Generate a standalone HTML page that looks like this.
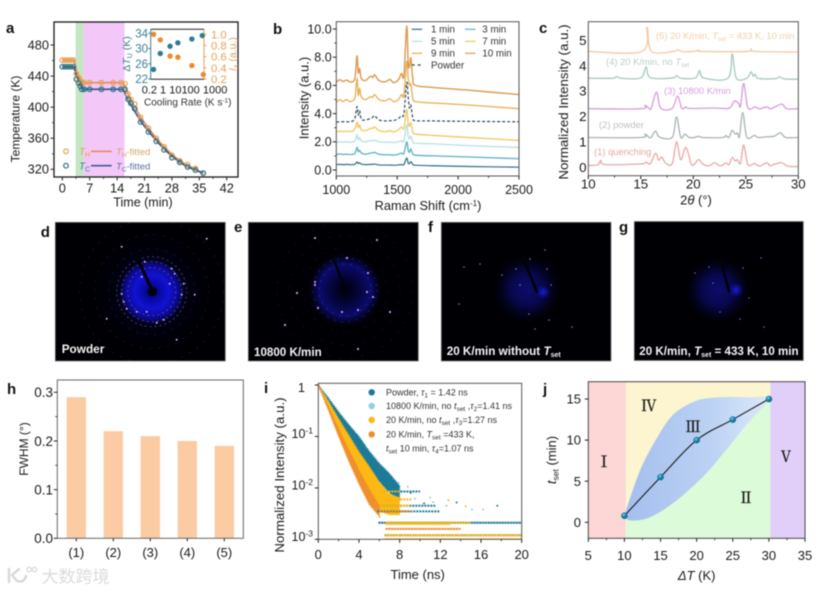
<!DOCTYPE html>
<html lang="zh">
<head>
<meta charset="utf-8">
<title>Composite figure</title>
<style>
html,body{margin:0;padding:0;background:#fff;width:827px;height:592px;overflow:hidden}
#figure{display:block;filter:blur(0.5px);font-family:"Liberation Sans","Noto Sans CJK SC",sans-serif}
</style>
</head>
<body>
<svg id="figure" xmlns="http://www.w3.org/2000/svg" width="827" height="592" viewBox="0 0 827 592">
<defs>
<radialGradient id="gradD"><stop offset="0" stop-color="#02021a"/><stop offset=".2" stop-color="#0808a0"/><stop offset=".5" stop-color="#1212d2"/><stop offset=".8" stop-color="#0a0a88"/><stop offset="1" stop-color="#05053a" stop-opacity="0"/></radialGradient>
<radialGradient id="gradE"><stop offset="0" stop-color="#000008"/><stop offset=".35" stop-color="#040436"/><stop offset=".7" stop-color="#0b0b6c"/><stop offset="1" stop-color="#05053a" stop-opacity="0"/></radialGradient>
<radialGradient id="gradF"><stop offset="0" stop-color="#11118c"/><stop offset=".5" stop-color="#0a0a62"/><stop offset="1" stop-color="#040428" stop-opacity="0"/></radialGradient>
<radialGradient id="gradCore"><stop offset="0" stop-color="#1c1ce0"/><stop offset="1" stop-color="#1010b0" stop-opacity="0"/></radialGradient>
<radialGradient id="gradBead" cx=".4" cy=".35" r=".7"><stop offset="0" stop-color="#8fe0f0"/><stop offset=".35" stop-color="#1f8fb5"/><stop offset="1" stop-color="#0d5f85"/></radialGradient>
<linearGradient id="gradBlob" x1="0" x2="1" y1="0" y2="0"><stop offset="0" stop-color="#a4bfee"/><stop offset=".6" stop-color="#bcd2f4"/><stop offset="1" stop-color="#dbe8fa"/></linearGradient>
<clipPath id="clipD"><rect x="55.3" y="222.3" width="170" height="138.7"/></clipPath>
<clipPath id="clipE"><rect x="248.3" y="222.3" width="170" height="138.7"/></clipPath>
<clipPath id="clipF"><rect x="441.3" y="222.3" width="169.7" height="138.7"/></clipPath>
<clipPath id="clipG"><rect x="634.3" y="221.5" width="169" height="139"/></clipPath>
<clipPath id="clipI"><rect x="318.3" y="383.3" width="203.4" height="156"/></clipPath>
</defs>
</svg>
<script>
/* ---------- panel a data ---------- */
const aTimes = [0,0.7,1.4,2.1,2.8,3.6,4.2,4.6,5.0,5.6,7,10,13,15,16,16.8,17.5,18.5,20,22,24,26,28,30,32,34,36];
const aHot   = [460.5,460.5,460.5,460.5,460.5,443,438,434,431.5,431.5,431.5,431.5,431.5,431.5,430,417,410,404,387,373,360,349,338,331,326,321,315];
const aCold  = [452,452,452,452,452,436,431,427,423,423,423,423,423,423,423,410,405,398,381,368,356,345,335,329,323,319,315];
const aFitTimes = [0,3,3.6,4.4,5.4,15.6,16.5,18,20,22,24,26,28,30,32,34,36];
const aFitHot   = [460.5,460.5,447,437,431.5,431.5,420,405,387,373,360,349,339,331,325,320,315];
const aFitCold  = [452,452,440,430,423,423,412,399,382,369,357,346,337,329,323,319,315];
const aXTicks = [0,7,14,21,28,35,42];
const aYTicks = [320,360,400,440,480];
const insetRates = [0.33,1,5,18,180,1000];
const insetDelta = [24.5,28.7,30.6,31.5,32.5,33.4];
const insetIx    = [1.0,0.9,0.61,0.59,0.44,0.28];
const insetDeltaTicks = [22,26,30,34];
const insetIxTicks = [0.2,0.4,0.6,0.8,1.0];

/* ---------- panel b data ---------- */
const ramanShift = [1000,1030,1055,1085,1110,1140,1155,1170,1180,1192,1205,1240,1280,1300,1315,1350,1400,1440,1470,1510,1535,1555,1578,1590,1600,1612,1628,1650,1800,2100,2500];
const raman1  = [0.38,0.4,0.38,0.4,0.38,0.38,0.42,0.58,0.45,0.52,0.42,0.38,0.4,0.4,0.42,0.36,0.35,0.35,0.34,0.36,0.38,0.38,0.85,0.5,0.45,0.6,0.4,0.34,0.3,0.25,0.2];
const raman3  = [1.1,1.14,1.1,1.12,1.1,1.12,1.2,1.62,1.3,1.4,1.2,1.12,1.2,1.22,1.25,1.12,1.08,1.08,1.06,1.12,1.2,1.18,2.0,1.4,1.25,1.5,1.15,1.05,1.0,0.92,0.8];
const raman5  = [1.95,2.0,1.97,2.0,1.97,2.0,2.1,2.5,2.15,2.3,2.05,2.0,2.08,2.08,2.12,2.0,1.97,1.97,1.95,2.0,2.08,2.05,3.2,2.4,2.2,2.4,2.0,1.9,1.85,1.72,1.6];
const raman7  = [2.7,2.75,2.72,2.75,2.72,2.78,2.95,3.4,3.0,3.2,2.85,2.8,2.95,2.95,3.05,2.8,2.72,2.78,2.7,2.85,3.05,2.95,4.3,3.3,3.1,3.35,2.7,2.55,2.45,2.3,2.1];
const ramanPowder = [3.4,3.42,3.42,3.42,3.42,3.5,3.75,4.5,3.9,4.2,3.6,3.55,3.65,3.75,3.85,3.55,3.48,3.5,3.5,3.65,3.85,4.0,6.2,5.2,4.4,4.6,3.7,3.5,3.48,3.45,3.42];
const raman9  = [4.8,5.0,4.85,5.0,4.85,4.95,5.2,6.5,5.3,5.8,5.2,5.0,5.2,5.15,5.35,5.0,4.9,5.05,4.85,5.0,5.35,5.3,7.7,6.5,6.0,6.1,5.1,4.85,4.75,4.6,4.35];
const raman10 = [6.25,6.4,6.28,6.38,6.25,6.3,6.6,8.1,6.9,7.2,6.5,6.35,6.65,6.55,6.75,6.35,6.25,6.42,6.2,6.4,6.85,6.7,10.2,7.6,7.3,7.95,6.5,6.0,5.85,5.65,5.35];
const bXTicks = [1000,1500,2000,2500];
const bYTicks = [0,2,4,6,8,10];
const bLegendLabels = ['1 min','5 min','9 min','3 min','7 min','10 min'];

/* ---------- panel c data ---------- */
const c1x = [10,10.9,11.2,11.6,15,15.5,15.9,16.4,16.7,17,17.4,18,18.4,18.8,19.3,19.8,20.1,20.5,21,21.6,22,22.5,22.8,23.1,23.4,23.7,24,24.2,24.5,24.8,25.2,25.8,26.3,27,27.3,27.6,28.4,29,30];
const c1y = [0.07,0.1,0.27,0.11,0.13,0.2,0.14,0.55,0.28,0.4,0.15,0.15,1.0,0.3,0.78,0.13,0.12,0.3,0.1,0.07,0.18,0.07,0.08,0.18,0.1,0.38,0.25,0.3,0.16,0.88,0.1,0.15,0.05,0.18,0.06,0.1,0.18,0.04,0.03];
const c2x = [10,15,15.4,15.8,16,16.4,16.8,18,18.4,18.8,19.2,19.6,20.1,20.5,20.9,22.8,23.1,23.4,23.7,24,24.2,24.4,24.7,25.1,25.8,26.2,27,27.7,28.3,28.8,30];
const c2y = [1.17,1.17,1.3,1.17,1.18,1.42,1.18,1.18,1.98,1.18,1.3,1.17,1.17,1.22,1.17,1.17,1.25,1.17,1.45,1.3,1.35,1.2,2.15,1.18,1.25,1.17,1.2,1.22,1.35,1.17,1.17];
const c3x = [10,15,15.4,15.8,16,16.5,16.9,18,18.5,18.9,19.3,19.7,22,23.4,23.9,24.3,24.5,24.8,25.2,25.9,26.3,27,27.4,28.4,28.9,30];
const c3y = [2.3,2.3,2.43,2.31,2.32,2.95,2.32,2.32,2.8,2.32,2.37,2.31,2.33,2.32,2.6,2.52,2.4,3.3,2.34,2.37,2.3,2.37,2.3,2.48,2.3,2.3];
const c4x = [10,12.3,12.7,13.1,15,15.5,15.9,18,18.4,18.8,20.2,20.6,21,23.3,23.7,24.1,25.1,25.5,25.7,25.9,26.2,27.8,28.2,28.7,30];
const c4y = [3.5,3.5,3.57,3.5,3.51,3.95,3.52,3.51,3.6,3.5,3.51,3.8,3.51,3.5,4.45,3.5,3.5,3.75,3.58,3.65,3.49,3.48,3.55,3.47,3.46];
const c5x = [10,15.1,15.6,16,18.1,18.5,18.9,20.1,20.5,20.9,25.1,25.5,25.9,30];
const c5y = [4.55,4.55,5.5,4.56,4.55,4.62,4.55,4.55,4.6,4.55,4.55,4.65,4.55,4.53];
const cXTicks = [10,15,20,25,30];
const cYTicks = [0,1,2,3,4,5];

/* ---------- panel h data ---------- */
const hCategories = ['(1)','(2)','(3)','(4)','(5)'];
const hValues = [0.29,0.22,0.21,0.20,0.19];
const hYTicks = [0,0.1,0.2,0.3];

/* ---------- panel i data ---------- */
const iTimes = [0,1,2,3,4,5,6,7,8];
const iPowderUpper = [1,0.56,0.3,0.17,0.1,0.052,0.03,0.019,0.011];
const iPowderLower = [1,0.48,0.2,0.09,0.045,0.022,0.013,0.008,0.006];
const iGoldUpper = [1,0.48,0.22,0.105,0.05,0.026,0.013,0.0075,0.0065];
const iGoldLower = [1,0.35,0.12,0.045,0.017,0.0075,0.0035,0.003,0.003];
const iOrangeUpper = [1,0.38,0.14,0.055,0.022,0.0095,0.0045];
const iOrangeLower = [1,0.32,0.1,0.033,0.012,0.0048,0.0028];
const iRowLevels = [0.0085,0.0085,0.006,0.0045,0.0045,0.0035,0.0035,0.0021,0.0021,0.002,0.0016,0.0012,0.0012,0.001,0.001];
const iRowStarts = [6.3,6.0,6.0,6.0,6.0,5.8,6.0,5.9,6.6,6.6,6.6,6.5,6.5,6.5,6.5];
const iRowEnds   = [10,8.0,9.2,11.5,9,12,9.2,20,15,13,14,20,20,20,20];
const iRowColors = [0,2,2,0,2,0,3,0,2,2,3,0,2,2,2];
const iOutlierT = [9.5,10.4,11,12.6,13.6,14.5,15.1,16.2,17.6,11.3,12.8,8.8,9.1,7.9];
const iOutlierI = [0.0062,0.005,0.0065,0.0045,0.0052,0.0044,0.0038,0.0038,0.0045,0.0053,0.0058,0.0105,0.008,0.0125];
const iOutlierColor = [1,0,1,1,0,2,1,1,0,1,2,1,0,1];
const iXTicks = [0,4,8,12,16,20];
const iYExponents = [0,-1,-2,-3];
const iPalette = ['#1c7b98','#92cfe2','#fdb913','#ef8f2e'];

/* ---------- panel j data ---------- */
const jDeltaT = [10,15,20,25,30];
const jTset = [0.8,5.5,10,12.5,15];
const jBlobX = [10,11,12.5,15,17,20,23,27,30,27,25,22,20,17,14,12,10.5,10];
const jBlobY = [0.8,3.5,7,11,13.3,14.8,15.2,15.2,15,12,9.8,6.6,4.8,2.5,0.8,0.25,0.3,0.8];
const jXTicks = [5,10,15,20,25,30,35];
const jYTicks = [0,5,10,15];

/* ---------- diffraction spots (offsets from beam centre) ---------- */
const dSpotX = [-7,20,23,32,-30,-28,-25,5,12,-15,-5,30,43,25,-45,55,-30,-10,18];
const dSpotY = [-30,-23,-18,-8,2,10,17,31,28,20,20,3,3,48,27,-53,-45,-15,-8];
const eSpotX = [23,-30,-30,-27,28,2,13,22,-3,32,-30,13,-60,45,-48];
const eSpotY = [-17,-5,-8,18,7,-32,20,2,22,-50,-52,59,35,22,3];
const fSpotX = [-57,-35,-21,-7,10,-17,-8,12,-2,35,-78,-73,14,8];
const fSpotY = [-28,-17,-23,-33,-23,-7,22,28,37,35,12,-25,-7,-42];
const gSpotX = [-21,13,-17,-10,10,19,-35,31,34];
const gSpotY = [-23,-22,-7,22,29,8,-17,-32,37];

/* ---------- helpers ---------- */
const NS = 'http://www.w3.org/2000/svg';
const root = document.getElementById('figure');
function mk(parent, tag, name, attrs) {
  const e = document.createElementNS(NS, tag);
  
  
  for (const k in attrs) e.setAttribute(k, attrs[k]);
  parent.appendChild(e);
  return e;
}
function txt(parent, name, x, y, html, o) {
  o = o || {};
  const a = {x: x, y: y, 'font-size': o.size || 12.5, fill: o.fill || '#1a1a1a', 'text-anchor': o.anchor || 'start'};
  if (o.weight) a['font-weight'] = o.weight;
  if (o.family) a['font-family'] = o.family;
  if (o.stroke) { a.stroke = o.stroke; a['stroke-width'] = .35; }
  if (o.rot) a.transform = 'rotate(-90 ' + x + ' ' + y + ')';
  const e = mk(parent, 'text', name, a);
  e.innerHTML = html;
  return e;
}
function linear(d0, d1, r0, r1) { return v => r0 + (v - d0) * (r1 - r0) / (d1 - d0); }
function pts(xs, ys, sx, sy) { return xs.map((x, i) => sx(x).toFixed(2) + ',' + sy(ys[i]).toFixed(2)).join(' '); }
function line(g, name, xs, ys, sx, sy, color, w, dash) {
  const a = {points: pts(xs, ys, sx, sy), fill: 'none', stroke: color, 'stroke-width': w, 'stroke-linejoin': 'round'};
  if (dash) a['stroke-dasharray'] = dash;
  return mk(g, 'polyline', name, a);
}
function smooth(p) {
  let d = 'M' + p[0][0].toFixed(2) + ' ' + p[0][1].toFixed(2);
  for (let i = 0; i < p.length - 1; i++) {
    const a = p[Math.max(i - 1, 0)], b = p[i], c = p[i + 1], e = p[Math.min(i + 2, p.length - 1)];
    d += 'C' + (b[0] + (c[0] - a[0]) / 6).toFixed(2) + ' ' + (b[1] + (c[1] - a[1]) / 6).toFixed(2) + ' ' +
         (c[0] - (e[0] - b[0]) / 6).toFixed(2) + ' ' + (c[1] - (e[1] - b[1]) / 6).toFixed(2) + ' ' +
         c[0].toFixed(2) + ' ' + c[1].toFixed(2);
  }
  return d;
}
function curve(g, name, xs, ys, sx, sy, color, w, dash) {
  const a = {d: smooth(xs.map((x, i) => [sx(x), sy(ys[i])])), fill: 'none', stroke: color, 'stroke-width': w, 'stroke-linejoin': 'round'};
  if (dash) a['stroke-dasharray'] = dash;
  return mk(g, 'path', name, a);
}
function frame(g, x0, y0, x1, y1, color, w) {
  mk(g, 'rect', 'plot-frame', {x: x0, y: y0, width: x1 - x0, height: y1 - y0, fill: 'none', stroke: color, 'stroke-width': w});
}
function xAxis(g, vals, labels, sx, y, base, o) {
  o = o || {};
  vals.forEach((v, i) => {
    mk(g, 'line', 'x-tick', {x1: sx(v), x2: sx(v), y1: y, y2: y + (o.len || 3.5), stroke: o.color || '#222', 'stroke-width': 1});
    txt(g, 'x-tick-label', sx(v), base, labels[i], {anchor: 'middle', size: o.size || 12.5, fill: o.fill});
  });
}
function yAxis(g, vals, labels, sy, x, right, o) {
  o = o || {};
  vals.forEach((v, i) => {
    mk(g, 'line', 'y-tick', {x1: x - (o.len === 0 ? 0 : (o.len || 3.5)), x2: x, y1: sy(v), y2: sy(v), stroke: o.color || '#222', 'stroke-width': 1});
    txt(g, 'y-tick-label', right, sy(v) + (o.dy || 4.4), labels[i], {anchor: 'end', size: o.size || 12.5, fill: o.fill});
  });
}
function minorX(g, vals, sx, y, color) { vals.forEach(v => mk(g, 'line', 'x-minor-tick', {x1: sx(v), x2: sx(v), y1: y, y2: y + 2, stroke: color || '#222', 'stroke-width': .8})); }
function minorY(g, vals, sy, x, color) { vals.forEach(v => mk(g, 'line', 'y-minor-tick', {x1: x - 2, x2: x, y1: sy(v), y2: sy(v), stroke: color || '#222', 'stroke-width': .8})); }
const letters = [['a',6,33],['b',273,34],['c',539,33],['d',40.7,237],['e',234,232],['f',428,232],['g',619,232],['h',7,394],['i',264,393],['j',543,394]];
function panel(name) { return mk(root, 'g', name, {}); }

/* ---------- panel a ---------- */
(function () {
  const g = panel('panel-a');
  const x0 = 54, x1 = 238, y0 = 22, y1 = 177;
  const sx = linear(0, 42, 62.3, 226.7), sy = linear(320, 480, 169.3, 45);
  mk(g, 'rect', 'nucleation-zone', {x: sx(3.4), y: y0, width: sx(5.4) - sx(3.4), height: y1 - y0, fill: '#c4e6c4'});
  mk(g, 'rect', 'isothermal-zone', {x: sx(5.4), y: y0, width: sx(15.9) - sx(5.4), height: y1 - y0, fill: '#f3c8f8'});
  line(g, 'th-fitted-line', aFitTimes, aFitHot, sx, sy, '#e98a58', 1.7);
  line(g, 'tc-fitted-line', aFitTimes, aFitCold, sx, sy, '#3c5c90', 1.7);
  aTimes.forEach((t, i) => mk(g, 'circle', 'th-point', {cx: sx(t), cy: sy(aHot[i]), r: 2.3, fill: 'none', stroke: '#e8a04e', 'stroke-width': 1.2}));
  aTimes.forEach((t, i) => mk(g, 'circle', 'tc-point', {cx: sx(t), cy: sy(aCold[i]), r: 2.3, fill: 'none', stroke: '#2d7284', 'stroke-width': 1.2}));
  frame(g, x0, y0, x1, y1, '#1a1a1a', 1.3);
  xAxis(g, aXTicks, aXTicks.map(String), sx, y1, 192.7, {size: 12.8});
  yAxis(g, aYTicks, aYTicks.map(String), sy, x0, 49, {size: 12.8});
  minorX(g, [3.5,10.5,17.5,24.5,31.5,38.5], sx, y1);
  minorY(g, [340,380,420,460], sy, x0);
  txt(g, 'x-axis-title', 143, 206.7, 'Time (min)', {anchor: 'middle', size: 12.5});
  txt(g, 'y-axis-title', 19.5, 119, 'Temperature (K)', {anchor: 'middle', size: 12, rot: true});
  /* legend */
  mk(g, 'circle', 'legend-th-marker', {cx: 66, cy: 151.3, r: 2.3, fill: 'none', stroke: '#e8a04e', 'stroke-width': 1.2});
  mk(g, 'circle', 'legend-tc-marker', {cx: 66, cy: 165.7, r: 2.3, fill: 'none', stroke: '#2d7284', 'stroke-width': 1.2});
  txt(g, 'legend-th-label', 79, 155, '<tspan font-style="italic">T</tspan><tspan dy="2" font-size="7">H</tspan>', {size: 10, fill: '#e3a257'});
  txt(g, 'legend-tc-label', 79, 169.5, '<tspan font-style="italic">T</tspan><tspan dy="2" font-size="7">C</tspan>', {size: 10, fill: '#3c7f90'});
  mk(g, 'line', 'legend-th-line', {x1: 91, x2: 111.7, y1: 151.3, y2: 151.3, stroke: '#e98a58', 'stroke-width': 1.6});
  mk(g, 'line', 'legend-tc-line', {x1: 91, x2: 111.7, y1: 165.7, y2: 165.7, stroke: '#3c5c90', 'stroke-width': 1.6});
  txt(g, 'legend-th-fitted', 116, 155, '<tspan font-style="italic">T</tspan><tspan dy="2" font-size="6.5">H</tspan><tspan dy="-2">-fitted</tspan>', {size: 9.5, fill: '#d9a363'});
  txt(g, 'legend-tc-fitted', 116, 169.5, '<tspan font-style="italic">T</tspan><tspan dy="2" font-size="6.5">C</tspan><tspan dy="-2">-fitted</tspan>', {size: 9.5, fill: '#5d6f9e'});
  /* inset */
  const ig = mk(g, 'g', 'inset-chart', {});
  const ix0 = 150.7, ix1 = 204, iy0 = 29.3, iy1 = 79.3;
  const lx = v => 160.3 + Math.log10(v) * 14;
  const dy = linear(22, 34, 79, 33.3), oy = linear(0.2, 1.0, 79, 34.3);
  mk(ig, 'rect', 'inset-background', {x: ix0, y: iy0, width: ix1 - ix0, height: iy1 - iy0, fill: '#fff'});
  mk(ig, 'path', 'inset-left-spine', {d: 'M' + ix0 + ' ' + iy0 + 'V' + iy1, stroke: '#3c7f90', 'stroke-width': 1, fill: 'none'});
  mk(ig, 'path', 'inset-right-spine', {d: 'M' + ix1 + ' ' + iy0 + 'V' + iy1, stroke: '#e3a257', 'stroke-width': 1, fill: 'none'});
  mk(ig, 'path', 'inset-top-bottom-spine', {d: 'M' + ix0 + ' ' + iy0 + 'H' + ix1 + 'M' + ix0 + ' ' + iy1 + 'H' + ix1, stroke: '#222', 'stroke-width': 1, fill: 'none'});
  insetRates.forEach((r, i) => {
    mk(ig, 'circle', 'inset-delta-point', {cx: lx(r), cy: dy(insetDelta[i]), r: 2.7, fill: '#2f7c92'});
    mk(ig, 'circle', 'inset-ix-point', {cx: lx(r) + (i === 5 ? 1 : 0), cy: oy(insetIx[i]), r: 2.7, fill: '#ee8a2c'});
  });
  insetDeltaTicks.forEach(v => {
    mk(ig, 'line', 'inset-left-tick', {x1: ix0 - 2.5, x2: ix0, y1: dy(v), y2: dy(v), stroke: '#3c7f90'});
    txt(ig, 'inset-left-label', 148, dy(v) + 4, String(v), {anchor: 'end', size: 11.5, fill: '#3c7f90'});
  });
  insetIxTicks.forEach(v => {
    mk(ig, 'line', 'inset-right-tick', {x1: ix1, x2: ix1 + 2.5, y1: oy(v), y2: oy(v), stroke: '#e3a257'});
    txt(ig, 'inset-right-label', 211, oy(v) + 4, v.toFixed(1), {size: 11.3, fill: '#e3a257'});
  });
  txt(ig, 'inset-x-labels', 141.7, 93.5, '0.2 1 10100 1000', {size: 11});
  txt(ig, 'inset-x-title', 144, 105.5, 'Cooling Rate (K s<tspan dy="-3" font-size="6.5">-1</tspan><tspan dy="3">)</tspan>', {size: 10, fill: '#333'});
  txt(ig, 'inset-left-title', 130, 54, '&#916;<tspan font-style="italic">T</tspan><tspan dy="2" font-size="7">U</tspan><tspan dy="-2"> (K)</tspan>', {anchor: 'middle', size: 10.5, fill: '#3c7f90', rot: true});
  txt(ig, 'inset-right-title', 236, 54, '<tspan font-style="italic">I</tspan><tspan dy="2" font-size="7">x</tspan><tspan dy="-2"> (a.u.)</tspan>', {anchor: 'middle', size: 10.5, fill: '#e3a257', rot: true});
})();

/* ---------- panel b ---------- */
(function () {
  const g = panel('panel-b');
  const x0 = 336.3, x1 = 519, y0 = 21.7, y1 = 176;
  const sx = linear(1000, 2500, x0, x1), sy = linear(0, 10, 170, 29);
  curve(g, 'series-1-min', ramanShift, raman1, sx, sy, '#2f6f85', 1.2);
  curve(g, 'series-3-min', ramanShift, raman3, sx, sy, '#5fb0c9', 1.3);
  curve(g, 'series-5-min', ramanShift, raman5, sx, sy, '#b7dfe6', 1.3);
  curve(g, 'series-7-min', ramanShift, raman7, sx, sy, '#f2c75c', 1.3);
  curve(g, 'series-powder', ramanShift, ramanPowder, sx, sy, '#2c4a5e', 1.2, '3 2');
  curve(g, 'series-9-min', ramanShift, raman9, sx, sy, '#e8ae50', 1.3);
  curve(g, 'series-10-min', ramanShift, raman10, sx, sy, '#dc9a4e', 1.4);
  frame(g, x0, y0, x1, y1, '#555', 1);
  xAxis(g, bXTicks, bXTicks.map(String), sx, y1, 194);
  yAxis(g, bYTicks, bYTicks.map(v => v.toFixed(1)), sy, x0, 331.7);
  minorX(g, [1250,1750,2250], sx, y1);
  minorY(g, [1,3,5,7,9], sy, x0);
  txt(g, 'x-axis-title', 428, 210, 'Raman Shift (cm<tspan dy="-4" font-size="8">-1</tspan><tspan dy="4">)</tspan>', {anchor: 'middle', size: 12.8});
  txt(g, 'y-axis-title', 308.5, 98, 'Intensity (a.u.)', {anchor: 'middle', size: 13, rot: true});
  const lc = ['#2f6f85','#b7dfe6','#e8ae50','#5fb0c9','#f2c75c','#dc9a4e'];
  const lx = [411.7,411.7,411.7,465,465,465], ly = [29.3,41.3,53.3,29.3,41.3,53.3];
  bLegendLabels.forEach((s, i) => {
    mk(g, 'line', 'legend-line', {x1: lx[i], x2: lx[i] + 10.5, y1: ly[i], y2: ly[i], stroke: lc[i], 'stroke-width': 1.2});
    txt(g, 'legend-label', i < 3 ? 431 : 482.3, ly[i] + 3.4, s, {size: 9.8, fill: '#333'});
  });
  mk(g, 'line', 'legend-powder-line', {x1: 411.7, x2: 422.3, y1: 65, y2: 65, stroke: '#2c4a5e', 'stroke-width': 1.2, 'stroke-dasharray': '3 3'});
  txt(g, 'legend-powder-label', 431, 68.4, 'Powder', {size: 9.8, fill: '#333'});
})();

/* ---------- panel c ---------- */
(function () {
  const g = panel('panel-c');
  const x0 = 588.3, x1 = 798.3, y0 = 21.7, y1 = 175.7;
  const sx = linear(10, 30, x0, x1), sy = linear(0, 5, 167.3, 40);
  curve(g, 'pattern-quenching', c1x, c1y, sx, sy, '#e9a8a2', 1.3);
  curve(g, 'pattern-powder', c2x, c2y, sx, sy, '#a9b3b5', 1.3);
  curve(g, 'pattern-10800', c3x, c3y, sx, sy, '#d49bdc', 1.3);
  curve(g, 'pattern-no-tset', c4x, c4y, sx, sy, '#a8c9be', 1.3);
  curve(g, 'pattern-tset', c5x, c5y, sx, sy, '#f5c9a0', 1.3);
  frame(g, x0, y0, x1, y1, '#555', 1);
  xAxis(g, cXTicks, cXTicks.map(String), sx, y1, 188.5, {size: 13.3});
  yAxis(g, cYTicks, cYTicks.map(String), sy, x0, 586.5, {dy: 4.8, len: 0, size: 13.3});
  minorX(g, [12.5,17.5,22.5,27.5], sx, y1);
  txt(g, 'x-axis-title', 696, 204.5, '2<tspan font-style="italic">&#952;</tspan> (&#176;)', {anchor: 'middle', size: 13});
  txt(g, 'y-axis-title', 568, 102, 'Normalized Intensity (a.u.)', {anchor: 'middle', size: 13.3, rot: true});
  txt(g, 'label-5', 656, 39, '(5) 20 K/min, <tspan font-style="italic">T</tspan><tspan dy="2" font-size="6">set</tspan><tspan dy="-2"> = 433 K, 10 min</tspan>', {size: 9.4, fill: '#f3cfa8'});
  txt(g, 'label-4', 606, 65, '(4) 20 K/min, no <tspan font-style="italic">T</tspan><tspan dy="2" font-size="6">set</tspan>', {size: 9.4, fill: '#b5cfc9'});
  txt(g, 'label-3', 664, 94, '(3) 10800 K/min', {size: 9.4, fill: '#d59fdc'});
  txt(g, 'label-2', 599, 128, '(2) powder', {size: 9.4, fill: '#bbc0c4'});
  txt(g, 'label-1', 594, 155, '(1) quenching', {size: 9.4, fill: '#eba5a0'});
})();

/* ---------- panels d-g ---------- */
function pattern(name, clip, fx, fy, fw, fh, cx, cy, draw) {
  const g = panel(name);
  mk(g, 'rect', 'pattern-background', {x: fx, y: fy, width: fw, height: fh, fill: '#000004'});
  const c = mk(g, 'g', 'pattern-content', {'clip-path': 'url(#' + clip + ')'});
  draw(c, cx, cy);
  mk(g, 'rect', 'pattern-border', {x: fx, y: fy, width: fw, height: fh, fill: 'none', stroke: '#777', 'stroke-width': .8});
  return g;
}
function rings(c, cx, cy, radii, color, op, dash, w) {
  radii.forEach(r => mk(c, 'circle', 'diffraction-ring', {cx: cx, cy: cy, r: r, fill: 'none', stroke: color, 'stroke-width': w, 'stroke-dasharray': dash, opacity: op}));
}
function spots(c, cx, cy, xs, ys, color, r) {
  xs.forEach((x, i) => mk(c, 'circle', 'diffraction-spot', {cx: cx + x, cy: cy + ys[i], r: r, fill: color}));
}
function stop(c, x1, y1, x2, y2, w) {
  mk(c, 'line', 'beam-stop', {x1: x1, y1: y1, x2: x2, y2: y2, stroke: '#020208', 'stroke-width': w, 'stroke-linecap': 'round'});
}
const dg = pattern('panel-d', 'clipD', 55.3, 222.3, 170, 138.7, 151.7, 291.7, (c, cx, cy) => {
  mk(c, 'circle', 'scatter-halo', {cx: cx, cy: cy, r: 60, fill: 'url(#gradF)', opacity: .2});
  mk(c, 'circle', 'scatter-core', {cx: cx, cy: cy, r: 34, fill: 'url(#gradD)'});
  rings(c, cx, cy, [24,30,35], '#a58cff', .45, '2 3', .9);
  rings(c, cx, cy, [43,57,72], '#4030b0', .35, '2 7', .9);
  spots(c, cx, cy, dSpotX, dSpotY, '#d9a8f5', 1);
  stop(c, cx + 1, cy, 135, 253, 3.2);
  mk(c, 'circle', 'beam-centre', {cx: cx + 1, cy: cy, r: 4.5, fill: '#020208'});
});
txt(dg, 'powder-caption', 61.7, 353, 'Powder', {size: 11.8, weight: 'bold', fill: '#f4f4f4'});
const eg = pattern('panel-e', 'clipE', 248.3, 222.3, 170, 138.7, 345, 290, (c, cx, cy) => {
  mk(c, 'circle', 'scatter-halo', {cx: cx, cy: cy, r: 37, fill: 'url(#gradE)'});
  rings(c, cx, cy, [26,32], '#6a56d8', .4, '1.5 6', .9);
  rings(c, cx, cy, [42,55,68], '#30249a', .3, '2 9', .9);
  spots(c, cx, cy, eSpotX, eSpotY, '#c898f0', 1.1);
  stop(c, cx, cy, 335, 262, 2.2);
});
txt(eg, '10800-caption', 254, 356, '10800 K/min', {size: 11.6, weight: 'bold', fill: '#f4f4f4'});
const fg = pattern('panel-f', 'clipF', 441.3, 222.3, 169.7, 138.7, 537, 292, (c, cx, cy) => {
  mk(c, 'circle', 'scatter-glow', {cx: cx - 10, cy: cy - 3, r: 34, fill: 'url(#gradF)', opacity: .75});
  mk(c, 'circle', 'scatter-core', {cx: cx + 6, cy: cy, r: 7, fill: 'url(#gradCore)'});
  spots(c, cx, cy, fSpotX, fSpotY, '#7a70e8', 0.8);
  stop(c, cx, cy, 523, 258, 2.6);
});
txt(fg, 'f-caption', 446.7, 355, '20 K/min without <tspan font-style="italic">T</tspan><tspan dy="2" font-size="7">set</tspan>', {size: 11.7, weight: 'bold', fill: '#f4f4f4'});
const gg = pattern('panel-g', 'clipG', 634.3, 221.5, 169, 139, 730, 290, (c, cx, cy) => {
  mk(c, 'circle', 'scatter-glow', {cx: cx - 12, cy: cy, r: 33, fill: 'url(#gradF)', opacity: .75});
  mk(c, 'circle', 'scatter-core', {cx: cx + 6, cy: cy, r: 7.5, fill: 'url(#gradCore)'});
  spots(c, cx, cy, gSpotX, gSpotY, '#6a60d8', 0.8);
  stop(c, cx - 1, cy + 1, 720, 258, 2.6);
});
txt(gg, 'g-caption', 639.3, 355, '20 K/min, <tspan font-style="italic">T</tspan><tspan dy="2" font-size="7">set</tspan><tspan dy="-2"> = 433 K, 10 min</tspan>', {size: 11.6, weight: 'bold', fill: '#f4f4f4'});

/* ---------- panel h ---------- */
(function () {
  const g = panel('panel-h');
  const x0 = 57.3, x1 = 243.3, y0 = 380, y1 = 538.3;
  const sy = linear(0, 0.3, 538.3, 392.3);
  const sx = i => 76.3 + i * 37;
  hValues.forEach((v, i) => mk(g, 'rect', 'bar-' + (i + 1), {x: sx(i) - 9.7, y: sy(v), width: 19.4, height: sy(0) - sy(v), fill: '#fbcba4'}));
  frame(g, x0, y0, x1, y1, '#666', 1);
  hCategories.forEach((s, i) => {
    mk(g, 'line', 'x-tick', {x1: sx(i), x2: sx(i), y1: y1, y2: y1 + 3, stroke: '#222'});
    txt(g, 'x-tick-label', sx(i), 557, s, {anchor: 'middle', size: 13});
  });
  yAxis(g, hYTicks, hYTicks.map(v => v.toFixed(1)), sy, x0, 53, {size: 13.5, dy: 4.8});
  minorY(g, [0.05,0.15,0.25], sy, x0);
  txt(g, 'y-axis-title', 28, 449, 'FWHM (&#176;)', {anchor: 'middle', size: 12, rot: true});
})();

/* ---------- panel i ---------- */
(function () {
  const g = panel('panel-i');
  const x0 = 318.3, x1 = 521.7, y0 = 383.3, y1 = 539.3;
  const sx = linear(0, 20, x0, x1);
  const sy = v => 385 - Math.log10(v) * 51.45;
  const c = mk(g, 'g', 'decay-data', {'clip-path': 'url(#clipI)'});
  function band(name, up, lo, color, dots) {
    const n = up.length, ts = iTimes.slice(0, n);
    const poly = pts(ts, up, sx, sy) + ' ' + pts(ts.slice().reverse(), lo.slice().reverse(), sx, sy);
    mk(c, 'polygon', name + '-band', {points: poly, fill: color});
    mk(c, 'polygon', name + '-band-edge', {points: poly, fill: 'none', stroke: color, 'stroke-width': 1.6, 'stroke-dasharray': '1 1.6'});
    if (dots) mk(c, 'polygon', name + '-band-highlight', {points: poly, fill: 'none', stroke: dots, 'stroke-width': .8, 'stroke-dasharray': '1 5'});
  }
  band('powder', iPowderUpper, iPowderLower, iPalette[0], iPalette[1]);
  band('gold', iGoldUpper, iGoldLower, iPalette[2]);
  band('orange', iOrangeUpper, iOrangeLower, iPalette[3]);
  iRowLevels.forEach((lv, i) => {
    mk(c, 'line', 'count-row', {x1: sx(iRowStarts[i]), x2: sx(iRowEnds[i]), y1: sy(lv), y2: sy(lv), stroke: iPalette[iRowColors[i]], 'stroke-width': 2, 'stroke-dasharray': lv < 0.0025 ? '2.4 .4' : '2 1'});
  });
  iOutlierT.forEach((t, i) => mk(c, 'circle', 'decay-outlier', {cx: sx(t), cy: sy(iOutlierI[i]), r: 1, fill: iPalette[iOutlierColor[i]]}));
  frame(g, x0, y0, x1, y1, '#555', 1);
  xAxis(g, iXTicks, iXTicks.map(String), sx, y1, 559, {size: 13});
  minorX(g, [2,6,10,14,18], sx, y1);
  iYExponents.forEach(e => {
    const v = Math.pow(10, e);
    mk(g, 'line', 'y-tick', {x1: x0 - 3.5, x2: x0, y1: sy(v), y2: sy(v), stroke: '#222'});
    txt(g, 'y-tick-label', e === 0 ? 305 : 313, sy(v) + (e === 0 ? 7 : 1.5), e === 0 ? '1' : '10<tspan dy="-4.5" font-size="8.5">' + e + '</tspan>', {anchor: 'end', size: 12.5});
  });
  txt(g, 'x-axis-title', 417.7, 579, 'Time (ns)', {anchor: 'middle', size: 13});
  txt(g, 'y-axis-title', 284, 475, 'Normalized Intensity (a.u.)', {anchor: 'middle', size: 13.3, rot: true});
  const my = [392.3,406,420,434.3];
  const lbl = [
    'Powder, <tspan font-style="italic">&#964;</tspan><tspan dy="2" font-size="6.5">1</tspan><tspan dy="-2"> = 1.42 ns</tspan>',
    '10800 K/min, no <tspan font-style="italic">t</tspan><tspan dy="2" font-size="6.5">set</tspan><tspan dy="-2"> ,</tspan><tspan font-style="italic">&#964;</tspan><tspan dy="2" font-size="6.5">2</tspan><tspan dy="-2">=1.41 ns</tspan>',
    '20 K/min, no <tspan font-style="italic">t</tspan><tspan dy="2" font-size="6.5">set</tspan><tspan dy="-2"> ,</tspan><tspan font-style="italic">&#964;</tspan><tspan dy="2" font-size="6.5">3</tspan><tspan dy="-2">=1.27 ns</tspan>',
    '20 K/min, <tspan font-style="italic">T</tspan><tspan dy="2" font-size="6.5">set</tspan><tspan dy="-2"> =433 K,</tspan>'
  ];
  lbl.forEach((s, i) => {
    mk(g, 'circle', 'legend-marker', {cx: 371.7, cy: my[i], r: 3.2, fill: iPalette[i]});
    txt(g, 'legend-label', 386, my[i] + 3, s, {size: 9, fill: '#333'});
  });
  txt(g, 'legend-label-continued', 386, 451.3, '<tspan font-style="italic">t</tspan><tspan dy="2" font-size="6.5">set</tspan><tspan dy="-2"> 10 min, </tspan><tspan font-style="italic">&#964;</tspan><tspan dy="2" font-size="6.5">4</tspan><tspan dy="-2">=1.07 ns</tspan>', {size: 9, fill: '#333'});
})();

/* ---------- panel j ---------- */
(function () {
  const g = panel('panel-j');
  const x0 = 588.3, x1 = 805, y0 = 381.7, y1 = 538.3;
  const sx = linear(5, 35, x0, x1), sy = linear(0, 15, 522.3, 399);
  mk(g, 'rect', 'region-i', {x: x0, y: y0, width: sx(10.2) - x0, height: y1 - y0, fill: '#fdd6d6'});
  mk(g, 'rect', 'region-ii', {x: sx(10.2), y: y0, width: sx(30.2) - sx(10.2), height: y1 - y0, fill: '#dcfbd8'});
  mk(g, 'path', 'region-iv', {d: 'M' + sx(10.2) + ' ' + y0 + 'H' + sx(30.2) + 'V' + sy(15) + 'H' + sx(20) + 'L' + sx(10.2) + ' ' + sy(0.8) + 'Z', fill: '#fcf5d0'});
  mk(g, 'rect', 'region-v', {x: sx(30.2), y: y0, width: x1 - sx(30.2), height: y1 - y0, fill: '#e2cff9'});
  const blob = jBlobX.map((x, i) => [sx(x), sy(jBlobY[i])]);
  mk(g, 'path', 'region-iii', {d: smooth(blob) + 'Z', fill: 'url(#gradBlob)'});
  curve(g, 'tset-curve', jDeltaT, jTset, sx, sy, '#1a1a1a', 1.1);
  jDeltaT.forEach((x, i) => mk(g, 'circle', 'tset-point', {cx: sx(x), cy: sy(jTset[i]), r: 3.3, fill: 'url(#gradBead)'}));
  frame(g, x0, y0, x1, y1, '#444', 1);
  xAxis(g, jXTicks, jXTicks.map(String), sx, y1, 560, {size: 13});
  yAxis(g, jYTicks, jYTicks.map(String), sy, x0, 581, {size: 13, dy: 4.6});
  minorX(g, [7.5,12.5,17.5,22.5,27.5,32.5], sx, y1);
  txt(g, 'x-axis-title', 696.7, 580, '<tspan font-style="italic">&#916;T</tspan> (K)', {anchor: 'middle', size: 13});
  txt(g, 'y-axis-title', 556, 460, '<tspan font-style="italic">t</tspan><tspan dy="2.5" font-size="8.5">set</tspan><tspan dy="-2.5"> (min)</tspan>', {anchor: 'middle', size: 13, rot: true});
  const rf = '"Noto Serif CJK SC","Liberation Serif",serif';
  txt(g, 'region-label-i', 604, 467, '&#8544;', {anchor: 'middle', size: 15, family: rf, stroke: '#1a1a1a'});
  txt(g, 'region-label-iv', 649, 411, '&#8547;', {anchor: 'middle', size: 15, family: rf, stroke: '#1a1a1a'});
  txt(g, 'region-label-iii', 693, 432, '&#8546;', {anchor: 'middle', size: 15, family: rf, stroke: '#1a1a1a'});
  txt(g, 'region-label-ii', 746, 503, '&#8545;', {anchor: 'middle', size: 15, family: rf, stroke: '#1a1a1a'});
  txt(g, 'region-label-v', 786, 462, '&#8548;', {anchor: 'middle', size: 15, family: rf, stroke: '#1a1a1a'});
})();

/* ---------- letters and watermark ---------- */
letters.forEach(l => txt(root, 'panel-letter-' + l[0], l[1], l[2], l[0], {size: 15, weight: 'bold', fill: '#111'}));
(function () {
  const g = panel('watermark');
  mk(g, 'path', 'watermark-logo', {d: 'M9 569V582M19 569L12 575L17 581Q24 583 26 576', fill: 'none', stroke: '#d8d8d8', 'stroke-width': 2.4, 'stroke-linecap': 'round'});
  mk(g, 'circle', 'watermark-logo-loop-left', {cx: 29, cy: 569.5, r: 2.2, fill: 'none', stroke: '#d8d8d8', 'stroke-width': 1.3});
  mk(g, 'circle', 'watermark-logo-loop-right', {cx: 34.5, cy: 569.5, r: 2.2, fill: 'none', stroke: '#d8d8d8', 'stroke-width': 1.3});
  txt(g, 'watermark-text', 41.5, 582.5, '大数跨境', {size: 17, fill: '#dcdcdc'});
})();
</script>
</body>
</html>
